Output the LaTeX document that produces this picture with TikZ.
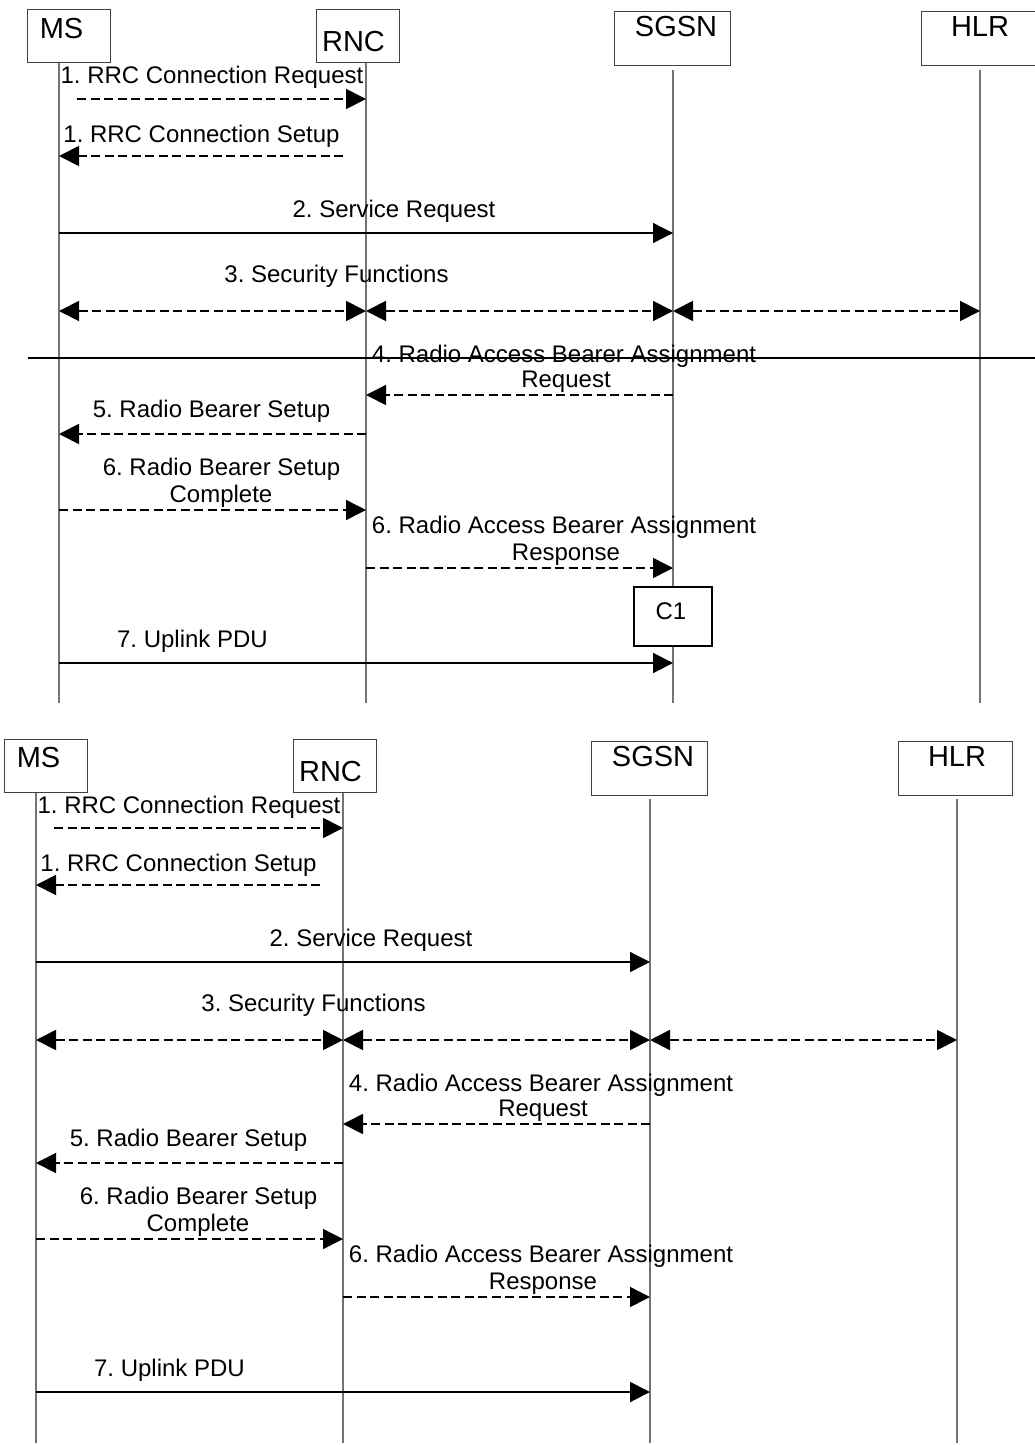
\documentclass[tikz,border=0pt]{standalone}
\usepackage{fontspec}
\setmainfont{Liberation Sans}
\frenchspacing
\usetikzlibrary{arrows.meta}
\tikzset{
  tip/.tip={Triangle[length=20pt,width=20pt]},
  lbox/.style={draw=black!75, line width=1pt, fill=white, inner sep=0pt},
  cbox/.style={draw=black, line width=2pt, fill=white, inner sep=0pt},
  lifeline/.style={draw=black!55, line width=1.1pt},
  msgtext/.style={font=\fontsize{24}{28}\selectfont, inner sep=0pt, anchor=base},
  boxtext/.style={font=\fontsize{29}{34}\selectfont, inner sep=0pt, anchor=base},
  msg/.style={-tip, line width=1.3pt},
  thickmsg/.style={-tip, line width=2pt},
  dmsg/.style={-tip, line width=1.8pt, dash pattern=on 9pt off 4.5pt},
  dbl/.style={tip-tip, line width=1.8pt, dash pattern=on 9pt off 4.5pt},
  sepline/.style={draw=black, line width=1.6pt}
}
% #1 = name prefix, #2 = lifeline end (local y)
\newcommand\seqbody[2]{%
  % lifelines
  \coordinate (#1msT) at (59,62);   \coordinate (#1msB) at (59,#2);
  \coordinate (#1rncT) at (366,63); \coordinate (#1rncB) at (366,#2);
  \coordinate (#1sgsnT) at (673,70);\coordinate (#1sgsnB) at (673,#2);
  \coordinate (#1hlrT) at (980,70); \coordinate (#1hlrB) at (980,#2);
  \draw[lifeline] (#1msT) -- (#1msB);
  \draw[lifeline] (#1rncT) -- (#1rncB);
  \draw[lifeline] (#1sgsnT) -- (#1sgsnB);
  \draw[lifeline] (#1hlrT) -- (#1hlrB);
  % entity boxes
  \node[lbox, minimum width=83pt, minimum height=53pt] (#1msbox) at (68.5,36.5) {};
  \node[boxtext] (#1mslbl) at (61.5,38) {MS};
  \node[lbox, minimum width=83pt, minimum height=53pt] (#1rncbox) at (357.5,36.5) {};
  \node[boxtext] (#1rnclbl) at (353.5,52) {RNC};
  \node[lbox, minimum width=116pt, minimum height=54pt] (#1sgsnbox) at (672.5,39) {};
  \node[boxtext] (#1sgsnlbl) at (676,37) {SGSN};
  \node[lbox, minimum width=114pt, minimum height=54pt] (#1hlrbox) at (978,39) {};
  \node[boxtext] (#1hlrlbl) at (980,37) {HLR};
  % 1. RRC Connection Request
  \node[msgtext] (#1t1) at (212,84) {1. RRC Connection Request};
  \coordinate (#1a1) at (77,99);
  \draw[dmsg] (#1a1) -- (#1rncT |- #1a1);
  % 1. RRC Connection Setup
  \node[msgtext] (#1t2) at (201.5,142) {1. RRC Connection Setup};
  \coordinate (#1a2) at (343,156);
  \draw[dmsg] (#1a2) -- (#1msT |- #1a2);
  % 2. Service Request
  \node[msgtext] (#1t3) at (394,217) {2. Service Request};
  \coordinate (#1y3) at (0,233);
  \draw[msg] (#1msT |- #1y3) -- (#1sgsnT |- #1y3);
  % 3. Security Functions
  \node[msgtext] (#1t4) at (336.5,282) {3. Security Functions};
  \coordinate (#1y4) at (0,311);
  \draw[dbl] (#1msT |- #1y4) -- (#1rncT |- #1y4);
  \draw[dbl] (#1rncT |- #1y4) -- (#1sgsnT |- #1y4);
  \draw[dbl] (#1sgsnT |- #1y4) -- (#1hlrT |- #1y4);
  % 4. RAB Assignment Request
  \node[msgtext] (#1t5a) at (564,362) {4. Radio Access Bearer Assignment};
  \node[msgtext] (#1t5b) at (566,387) {Request};
  \coordinate (#1y5) at (0,395);
  \draw[dmsg] (#1sgsnT |- #1y5) -- (#1rncT |- #1y5);
  % 5. Radio Bearer Setup
  \node[msgtext] (#1t6) at (211.5,417) {5. Radio Bearer Setup};
  \coordinate (#1y6) at (0,434);
  \draw[dmsg] (#1rncT |- #1y6) -- (#1msT |- #1y6);
  % 6. Radio Bearer Setup Complete
  \node[msgtext] (#1t7a) at (221.5,475) {6. Radio Bearer Setup};
  \node[msgtext] (#1t7b) at (221,502) {Complete};
  \coordinate (#1y7) at (0,510);
  \draw[dmsg, line width=1.5pt] (#1msT |- #1y7) -- (#1rncT |- #1y7);
  % 6. RAB Assignment Response
  \node[msgtext] (#1t8a) at (564,533) {6. Radio Access Bearer Assignment};
  \node[msgtext] (#1t8b) at (566,560) {Response};
  \coordinate (#1y8) at (0,568);
  \draw[dmsg, line width=1.5pt] (#1rncT |- #1y8) -- (#1sgsnT |- #1y8);
  % 7. Uplink PDU
  \node[msgtext] (#1t9) at (192.5,647) {7. Uplink PDU};
  \coordinate (#1y9) at (0,663);
  \draw[thickmsg] (#1msT |- #1y9) -- (#1sgsnT |- #1y9);
}
\begin{document}
\begin{tikzpicture}[x=1pt, y=-1pt]
  \path[fill=white] (0,0) rectangle (1035,1445);
  \useasboundingbox (0,0) rectangle (1035,1445);
  % upper diagram
  \begin{scope}
    \seqbody{u}{703}
    \coordinate (sepL) at (28,358);
    \coordinate (sepR) at (1035,358);
    \draw[sepline] (sepL) -- (sepR);
    \node[cbox, minimum width=78pt, minimum height=59pt] (c1box) at (673,616.5) {};
    \node[msgtext] (c1lbl) at (671,619) {C1};
  \end{scope}
  % lower diagram
  \begin{scope}[shift={(-23,729)}]
    \seqbody{l}{714}
  \end{scope}
\end{tikzpicture}
\end{document}
